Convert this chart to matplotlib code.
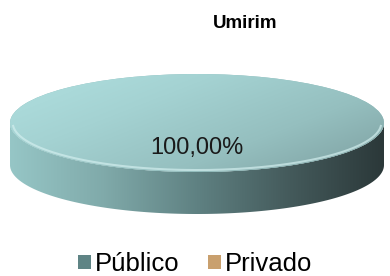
import matplotlib
matplotlib.use("Agg")
import matplotlib.pyplot as plt
import numpy as np
from matplotlib.colors import LinearSegmentedColormap
from matplotlib.patches import Polygon, Patch

plt.rcParams['font.family'] = ['Liberation Sans', 'DejaVu Sans']

title = "Umirim"
labels = ["Público", "Privado"]
values = [100.0, 0.0]
label_text = "100,00%"
colors = ["#8fbcbc", "#c9a06e"]

fig = plt.figure(figsize=(3.9, 2.76), dpi=100)
ax = fig.add_axes([0, 0, 1, 1])

# pixel geometry -> data coords: top face is a unit "circle" stretched to an ellipse
cx, cy, rx, ry, depth = 197.0, 123.0, 187.0, 49.0, 42.0
d = depth / ry

# side band (lower half of the disc)
t = np.linspace(np.pi, 2 * np.pi, 200)
xs = np.cos(t)
upper = np.sin(t)
lower = np.sin(t) - d
poly = np.concatenate([np.column_stack([xs, upper]),
                       np.column_stack([xs[::-1], lower[::-1]])])
side = Polygon(poly, closed=True, facecolor='none', edgecolor='none')
ax.add_patch(side)
side_cmap = LinearSegmentedColormap.from_list(
    "side", ["#96c6c6", "#80aaaa", "#5f8182", "#445a5b", "#2b3839"])
grad = np.linspace(0, 1, 256).reshape(1, -1)
im = ax.imshow(grad, cmap=side_cmap, extent=(-1, 1, -1 - d, 0),
               aspect='auto', zorder=1)
im.set_clip_path(side)

# top face via pie
wedges, _ = ax.pie(values, colors=colors, startangle=90, counterclock=False,
                   radius=1.0, center=(0, 0), frame=True,
                   wedgeprops=dict(linewidth=0))
ax.set_xlim(-cx / rx, (390 - cx) / rx)
ax.set_ylim((cy - 276) / ry, cy / ry)
ax.set_aspect('auto')
ax.axis('off')
for w in wedges:
    w.set_zorder(2)

top_cmap = LinearSegmentedColormap.from_list(
    "top", ["#b0e0e0", "#a4d2d2", "#95bfbf", "#7d9fa0"])
yy, xx = np.mgrid[1:-1:200j, -1:1:400j]
g = np.clip(0.6 * (xx + 1) / 2 + 0.4 * (1 - yy) / 2, 0, 1)
im2 = ax.imshow(g, cmap=top_cmap, extent=(-1, 1, -1, 1), aspect='auto',
                zorder=3, vmin=0, vmax=1)
im2.set_clip_path(wedges[0])

# rim highlight
tr = np.linspace(np.pi * 1.02, np.pi * 1.98, 200)
ax.plot(0.985 * np.cos(tr), 0.96 * np.sin(tr), color="#d2eeee", lw=1.5,
        alpha=0.7, zorder=4)

ax.text(0.0, -0.52, label_text, ha='center', va='center', fontsize=17,
        color='#1a1a1a', zorder=5)

fig.text(245 / 390, 1 - 24 / 276, title, ha='center', va='center',
         fontsize=13.5, fontweight='bold')

handles = [Patch(facecolor=c, edgecolor='none') for c in ["#5f8485", colors[1]]]
fig.legend(handles, labels, loc='center', bbox_to_anchor=(0.5, 1 - 264 / 276),
           ncol=2, frameon=False, fontsize=18.5, handlelength=0.5,
           handleheight=0.5, handletextpad=0.15, columnspacing=1.1,
           borderaxespad=0)

fig.savefig("out.png", dpi=100)
